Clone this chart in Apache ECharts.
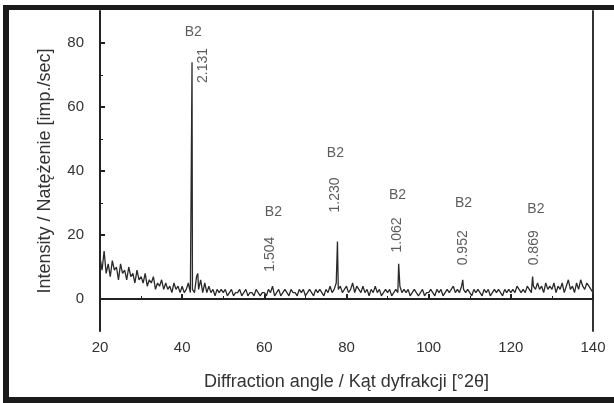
<!DOCTYPE html>
<html>
<head>
<meta charset="utf-8">
<script src="https://cdn.jsdelivr.net/npm/echarts@6/dist/echarts.min.js"></script>
<style>
  html, body { margin: 0; padding: 0; background: #fff; }
  .frame {
    position: absolute; left: 3px; top: 5px; right: 0; bottom: 0;
    border-top: 5px solid #1a1a1a; border-left: 6px solid #1a1a1a; border-bottom: 6px solid #1a1a1a;
  }
  #chart { position: absolute; left: 0; top: 0; width: 614px; height: 403px; }
</style>
</head>
<body>
<div class="frame"></div>
<div id="chart"></div>
<script>
// scan: 20..140 deg 2theta, step 0.5
const scanStart = 20
const scanStep = 0.5
const background = [
  13, 9, 15, 8, 11, 7, 12, 9, 10, 6, 11, 8, 9, 6, 10, 7, 8, 5, 9, 6,
  7, 5, 8, 4, 6, 5, 7, 3, 5, 4, 6, 3, 5, 3, 4, 2, 5, 3, 4, 2,
  4, 2, 3, 5, 2, 3, 2, 7, 3, 6, 2, 5, 2, 4, 2, 3, 1, 3, 2, 3,
  2, 3, 1, 2, 3, 1, 2, 2, 3, 1, 2, 3, 1, 2, 2, 1, 3, 2, 1, 2,
  2, 1, 3, 2, 4, 1, 2, 3, 1, 2, 3, 2, 1, 3, 2, 2, 1, 3, 2, 3,
  1, 2, 3, 2, 1, 3, 2, 3, 2, 1, 3, 2, 4, 2, 3, 5, 3, 4, 2, 3,
  4, 2, 3, 5, 2, 4, 3, 2, 4, 2, 3, 1, 3, 2, 4, 2, 3, 1, 2, 3,
  2, 3, 1, 2, 3, 2, 4, 2, 3, 2, 3, 1, 2, 3, 2, 1, 2, 3, 1, 2,
  2, 3, 2, 1, 3, 2, 3, 1, 2, 3, 2, 3, 4, 2, 3, 2, 4, 3, 2, 3,
  2, 1, 3, 2, 3, 2, 1, 3, 2, 3, 1, 2, 3, 2, 3, 2, 1, 3, 2, 3,
  2, 3, 2, 4, 3, 2, 3, 2, 4, 3, 2, 4, 3, 5, 3, 4, 2, 5, 3, 4,
  3, 5, 2, 4, 3, 5, 2, 4, 6, 3, 4, 2, 5, 3, 6, 4, 3, 5, 4, 3,
  2
]
// diffraction peaks
const peakAngles = [42.4, 43.8, 62.0, 77.8, 92.7, 108.3, 125.3]
const peakHeights = [74, 8, 4, 18, 11, 6, 7]

// annotations: phase + d-spacing
const phaseLabels = ['B2', 'B2', 'B2', 'B2', 'B2', 'B2']
const phasePos = [[42.7, 83.5], [62.2, 27], [77.3, 45.5], [92.4, 32.5], [108.5, 30], [126.1, 28]]
const dLabels = ['2.131', '1.504', '1.230', '1.062', '0.952', '0.869']
const dPos = [[45.0, 73], [61.4, 14], [77.3, 32.5], [92.4, 20], [108.5, 16], [125.6, 16]]

const yMajor = [0, 20, 40, 60, 80]
const yMinor = [10, 30, 50, 70]

let points = background.map((v, i) => [scanStart + i * scanStep, v])
peakAngles.forEach((a, i) => points.push([a, peakHeights[i]]))
points.sort((p, q) => p[0] - q[0])

const txt = '#333'
const font = 'Liberation Sans, Arial, sans-serif'

let chart = echarts.init(document.getElementById('chart'))
chart.setOption({
  animation: false,
  grid: { left: 100, right: 21, top: 11, bottom: 72 },
  xAxis: {
    type: 'value',
    min: 20,
    max: 140,
    interval: 20,
    name: 'Diffraction angle / Kąt dyfrakcji [°2θ]',
    nameLocation: 'middle',
    nameGap: 42,
    nameTextStyle: { color: txt, fontSize: 18, fontFamily: font },
    axisLine: { lineStyle: { color: '#222', width: 2 } },
    axisTick: { inside: true, length: 5, lineStyle: { color: '#222', width: 2 } },
    minorTick: { show: true, splitNumber: 2, length: 3, lineStyle: { color: '#222', width: 1 } },
    axisLabel: { color: txt, fontSize: 15, fontFamily: font, margin: 9 },
    splitLine: { show: false }
  },
  yAxis: [
    {
      type: 'value',
      position: 'left',
      min: -10,
      max: 90,
      name: 'Intensity / Natężenie [imp./sec]',
      nameLocation: 'middle',
      nameGap: 46,
      nameTextStyle: { color: txt, fontSize: 18, fontFamily: font },
      axisLine: { show: true, lineStyle: { color: '#222', width: 2 } },
      axisTick: { show: true, inside: true, length: 5, customValues: yMajor, lineStyle: { color: '#222', width: 2 } },
      axisLabel: { color: txt, fontSize: 15, fontFamily: font, margin: 16, customValues: yMajor },
      splitLine: { show: false }
    },
    {
      type: 'value',
      position: 'left',
      min: -10,
      max: 90,
      axisLine: { show: false },
      axisTick: { show: true, inside: true, length: 3, customValues: yMinor, lineStyle: { color: '#222', width: 1 } },
      axisLabel: { show: false },
      splitLine: { show: false }
    },
    {
      type: 'value',
      position: 'right',
      min: -10,
      max: 90,
      axisLine: { show: true, lineStyle: { color: '#333', width: 2 } },
      axisTick: { show: false },
      axisLabel: { show: false },
      splitLine: { show: false }
    }
  ],
  series: [
    {
      type: 'line',
      data: points,
      symbol: 'none',
      lineStyle: { color: '#2a2a2a', width: 1.3 }
    },
    {
      type: 'scatter',
      symbolSize: 0,
      data: phasePos.map((p, i) => ({ value: p, name: phaseLabels[i] })),
      label: {
        show: true, position: 'inside', formatter: '{b}',
        color: txt, fontSize: 14, fontFamily: font
      }
    },
    {
      type: 'scatter',
      symbolSize: 0,
      data: dPos.map((p, i) => ({ value: p, name: dLabels[i] })),
      label: {
        show: true, position: 'inside', formatter: '{b}', rotate: 90,
        color: txt, fontSize: 14, fontFamily: font
      }
    }
  ]
})
</script>
</body>
</html>
